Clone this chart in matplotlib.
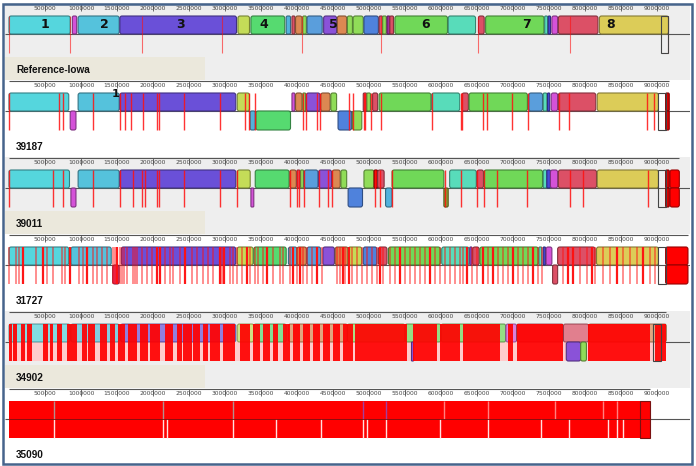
import matplotlib.pyplot as plt
import matplotlib.colors as mcolors
from matplotlib.patches import FancyBboxPatch, Rectangle

# genome names and lengths (Mb)
names = ['Reference-Iowa', '39187', '39011', '31727', '34902', '35090']
lengths = [9.16, 9.17, 9.31, 9.43, 9.13, 8.90]
tick_pos = [0.5 * k for k in range(1, 19)]

pal = {'cy': '#55d6dd', 'cb': '#55c2dc', 'pu': '#6a50d8', 'yg': '#c4dc58',
       'gr': '#56da70', 'tb': '#52b2dc', 'rd': '#dc5066', 'or': '#dc8852',
       'lg': '#90dc58', 'bl': '#5a9edc', 'vi': '#8a52d8', 'db': '#4f82dc',
       'mg': '#d452d8', 'g6': '#70d858', 'te': '#58dcba', 'ye': '#dccc58',
       'dp': '#a02ca0', 'br': '#ff0000', 'ol': '#8a9a30', 'pk': '#e0306a',
       'nb': '#4848d8', 'dr': '#e00000'}

# ---- Reference-Iowa
ref_up = [(0.00, 0.85, 'cy'), (0.88, 0.94, 'mg'), (0.96, 1.53, 'cb'), (1.54, 3.16, 'pu'),
          (3.18, 3.34, 'yg'), (3.36, 3.83, 'gr'), (3.85, 3.91, 'tb'), (3.93, 3.97, 'rd'),
          (3.98, 4.07, 'or'), (4.08, 4.13, 'lg'), (4.14, 4.35, 'bl'), (4.37, 4.55, 'vi'),
          (4.56, 4.69, 'or'), (4.70, 4.77, 'lg'), (4.78, 4.92, 'lg'), (4.93, 5.13, 'db'),
          (5.14, 5.19, 'rd'), (5.19, 5.24, 'lg'), (5.25, 5.29, 'dp'), (5.29, 5.34, 'rd'),
          (5.36, 6.09, 'g6'), (6.10, 6.48, 'te'), (6.52, 6.60, 'rd'), (6.62, 7.43, 'g6'),
          (7.44, 7.48, 'te'), (7.49, 7.52, 'nb'), (7.54, 7.62, 'mg'), (7.63, 8.18, 'rd'),
          (8.20, 9.16, 'ye')]
ref_red = [0.0, 0.85, 1.85, 2.96, 4.07, 5.17, 6.51, 7.79, 9.15]
ref_box = (9.05, 9.15)
block_nums = ['1', '2', '3', '4', '5', '6', '7', '8']
block_num_pos = [0.50, 1.33, 2.38, 3.54, 4.50, 5.78, 7.19, 8.36]

# ---- 39187
g2_up = [(0.00, 0.83, 'cy'), (0.96, 1.53, 'cb'), (1.54, 3.15, 'pu'), (3.17, 3.34, 'yg'),
         (3.93, 3.97, 'mg'), (3.98, 4.07, 'or'), (4.08, 4.12, 'lg'), (4.13, 4.32, 'vi'),
         (4.33, 4.46, 'or'), (4.47, 4.55, 'lg'), (4.92, 4.97, 'rd'), (4.97, 5.02, 'lg'),
         (5.05, 5.12, 'rd'), (5.14, 5.86, 'g6'), (5.87, 6.26, 'te'), (6.29, 6.38, 'rd'),
         (6.39, 7.20, 'g6'), (7.22, 7.41, 'bl'), (7.42, 7.47, 'te'), (7.48, 7.51, 'nb'),
         (7.53, 7.62, 'mg'), (7.63, 8.15, 'rd'), (8.17, 9.02, 'ye'), (9.12, 9.17, 'dr')]
g2_low = [(0.85, 0.93, 'mg'), (3.35, 3.42, 'tb'), (3.43, 3.91, 'gr'), (4.57, 4.76, 'db'),
          (4.77, 4.90, 'lg'), (9.12, 9.17, 'dr')]
g2_red = [0.0, 0.69, 0.75, 1.17, 1.54, 1.61, 1.69, 1.86, 2.06, 2.08, 2.43, 2.93, 3.28,
          3.33, 3.42, 4.08, 4.13, 4.28, 4.32, 4.72, 4.78, 4.93, 4.95, 5.03, 5.17, 5.88,
          6.28, 6.29, 6.58, 6.64, 6.99, 7.21, 7.64, 7.78, 8.86, 8.96]
g2_box = (9.02, 9.12)

# ---- 39011
g3_up = [(0.00, 0.84, 'cy'), (0.96, 1.53, 'cb'), (1.54, 3.15, 'pu'), (3.17, 3.35, 'yg'),
         (3.42, 3.89, 'gr'), (3.90, 3.99, 'or'), (4.00, 4.04, 'rd'), (4.05, 4.09, 'lg'),
         (4.10, 4.29, 'bl'), (4.30, 4.48, 'vi'), (4.49, 4.60, 'or'), (4.61, 4.69, 'lg'),
         (4.93, 5.07, 'lg'), (5.07, 5.12, 'dr'), (5.12, 5.21, 'rd'), (5.32, 6.04, 'g6'),
         (6.12, 6.49, 'te'), (6.50, 6.59, 'rd'), (6.60, 7.41, 'g6'), (7.42, 7.47, 'te'),
         (7.47, 7.52, 'nb'), (7.52, 7.62, 'mg'), (7.63, 8.16, 'rd'), (8.17, 9.02, 'ye'),
         (9.12, 9.17, 'dr'), (9.18, 9.31, 'br')]
g3_low = [(0.86, 0.93, 'mg'), (3.36, 3.40, 'mg'), (4.71, 4.91, 'db'), (5.23, 5.32, 'tb'),
          (6.04, 6.10, 'ol'), (9.12, 9.17, 'dr'), (9.18, 9.31, 'br')]
g3_red = [0.0, 0.61, 0.75, 1.17, 1.54, 1.72, 1.85, 1.89, 2.06, 2.08, 2.43, 2.93, 3.17,
          3.90, 4.00, 4.03, 4.10, 4.31, 4.43, 4.49, 5.08, 5.15, 5.32, 6.06, 6.28, 6.50,
          6.60, 6.78, 7.19, 7.79, 7.97, 8.88]
g3_box = (9.02, 9.12)

# ---- 31727
g4_up = [(0.00, 0.83, 'cy'), (0.86, 1.42, 'cb'), (1.56, 3.15, 'pu'), (3.17, 3.39, 'yg'),
         (3.40, 3.85, 'gr'), (3.88, 4.00, 'tb'), (4.00, 4.13, 'or'), (4.14, 4.33, 'bl'),
         (4.36, 4.52, 'vi'), (4.53, 4.71, 'or'), (4.71, 4.90, 'yg'), (4.92, 5.11, 'db'),
         (5.13, 5.25, 'rd'), (5.27, 5.99, 'g6'), (6.01, 6.39, 'te'), (6.40, 6.43, 'vi'),
         (6.44, 6.53, 'rd'), (6.54, 7.35, 'g6'), (7.36, 7.40, 'te'), (7.42, 7.45, 'nb'),
         (7.46, 7.54, 'mg'), (7.62, 8.14, 'rd'), (8.16, 9.02, 'ye'), (9.12, 9.43, 'br')]
g4_low = [(1.44, 1.53, 'pk'), (7.55, 7.62, 'rd'), (9.12, 9.43, 'br')]
g4_red = [0.0, 0.10, 0.14, 0.19, 0.375, 0.47, 0.53, 0.61, 0.74, 0.78, 0.85, 0.97, 1.03,
          1.08, 1.17, 1.22, 1.29, 1.36, 1.44, 1.47, 1.50, 1.54, 1.57, 1.60, 1.64, 1.72,
          1.75, 1.78, 1.85, 1.92, 1.99, 2.06, 2.10, 2.17, 2.24, 2.28, 2.38, 2.44, 2.54,
          2.61, 2.69, 2.76, 2.83, 2.93, 2.96, 2.99, 3.07, 3.11, 3.17, 3.24, 3.31, 3.35,
          3.42, 3.46, 3.53, 3.58, 3.67, 3.76, 3.81, 3.90, 3.94, 4.00, 4.04, 4.08, 4.14,
          4.21, 4.28, 4.35, 4.56, 4.60, 4.64, 4.67, 4.72, 4.76, 4.83, 4.90, 4.97, 5.04,
          5.11, 5.15, 5.19, 5.29, 5.36, 5.43, 5.50, 5.57, 5.64, 5.71, 5.78, 5.85, 5.92,
          5.99, 6.06, 6.13, 6.19, 6.26, 6.31, 6.36, 6.43, 6.50, 6.58, 6.65, 6.72, 6.79,
          6.86, 6.93, 7.00, 7.07, 7.14, 7.21, 7.28, 7.35, 7.40, 7.69, 7.76, 7.83, 7.93,
          8.03, 8.10, 8.14, 8.25, 8.35, 8.44, 8.53, 8.63, 8.72, 8.81, 8.90, 8.97]
g4_strong = [0.19, 0.47, 0.85, 1.08, 1.50, 2.06, 2.10, 2.44, 2.93, 2.99, 3.31, 3.58,
             3.94, 4.04, 4.28, 4.64, 4.72, 5.15, 5.43, 5.85, 6.36, 6.58, 6.72, 7.00,
             7.28, 7.76, 7.83, 8.10, 8.44, 8.81]
g4_box = (9.02, 9.12)

# ---- 34902
g5_up = [(0.00, 0.85, 'cy'), (0.86, 1.53, 'cb'), (1.55, 3.15, 'pu'), (3.17, 3.40, 'yg'),
         (3.40, 3.85, 'gr'), (3.88, 4.70, 'or'), (4.70, 5.50, 'lg'), (5.50, 6.00, 'g6'),
         (6.00, 6.90, 'g6'), (6.90, 7.05, 'mg'), (7.05, 7.70, 'rd'), (7.70, 8.05, 'rd'),
         (8.05, 9.13, 'or')]
g5_low = [(5.59, 5.62, 'vi'), (7.74, 7.94, 'vi'), (7.94, 8.02, 'lg')]
g5_red = [(0.00, 0.04), (0.06, 0.11), (0.17, 0.22), (0.25, 0.32), (0.47, 0.54),
          (0.57, 0.61), (0.67, 0.74), (0.80, 0.94), (1.01, 1.08), (1.10, 1.19),
          (1.26, 1.36), (1.40, 1.47), (1.51, 1.61), (1.65, 1.78), (1.82, 1.93),
          (1.96, 2.10), (2.17, 2.28), (2.33, 2.40), (2.42, 2.54), (2.56, 2.65),
          (2.69, 2.76), (2.79, 2.93), (2.97, 3.14), (3.21, 3.35), (3.39, 3.49),
          (3.53, 3.63), (3.67, 3.74), (3.81, 3.90), (3.94, 4.04), (4.08, 4.18),
          (4.22, 4.32), (4.36, 4.46), (4.50, 4.60), (4.64, 4.78), (4.81, 5.53),
          (5.61, 5.94), (5.99, 6.26), (6.31, 6.82), (6.93, 7.00), (7.06, 7.69),
          (8.04, 8.90), (8.97, 9.13)]
g5_box = (8.94, 9.05)

# ---- 35090
g6_red = [(0.00, 8.90)]
g6_up_lines = [(0.63, 'grey'), (2.14, 'grey'), (3.11, 'grey'), (4.92, 'purple'),
               (5.23, 'purple'), (6.04, 'pink'), (6.65, 'pink'), (7.58, 'pink'),
               (8.25, 'pink'), (8.44, 'pink')]
g6_low_gaps = [0.63, 2.14, 2.19, 3.11, 3.71, 4.33, 4.92, 4.97, 5.23, 5.99, 6.65, 7.39,
               7.78, 8.32, 8.44, 8.53]

W, H = 696, 466
fig = plt.figure(figsize=(W / 100, H / 100), dpi=100)
fig.patch.set_facecolor('white')


def darker(c, f=0.6):
    r, g, b = mcolors.to_rgb(c)
    return (r * f, g * f, b * f)


def block(ax, s, e, row, key, alpha=1.0):
    y0, h = (13, 18) if row == 'u' else (31, 19)
    col = pal[key]
    rs = min(0.03, (e - s) / 3)
    p = FancyBboxPatch((s, y0), e - s, h,
                       boxstyle='round,pad=0,rounding_size=%f' % rs,
                       mutation_aspect=72, fc=col, ec=darker(col), lw=0.8,
                       alpha=alpha, zorder=2)
    ax.add_patch(p)


def ruler(ax, L):
    ax.hlines(1, 0, L, color='#555555', lw=0.8, zorder=3)
    clip = Rectangle((0, 0), L, 12, transform=ax.transData)
    for t in tick_pos:
        if t - 0.2 > L:
            continue
        ax.vlines(t, 1, 8, color='#555555', lw=0.6, zorder=3)
        txt = ax.text(t, 5.5, '%d' % round(t * 1e6), ha='center', va='center',
                      fontsize=4.3, color='#444444', zorder=3)
        txt.set_clip_path(clip)


def track(i, grey):
    top = 3 + 77 * i
    ax = fig.add_axes([5 / W, 1 - (top + 77) / H, 685 / W, 77 / H])
    ax.set_xlim(-4 / 72, 681 / 72)
    ax.set_ylim(77, 0)
    ax.axis('off')
    ax.add_patch(Rectangle((-4 / 72, 0), 685 / 72, 77,
                           fc='#eeeeee' if grey else 'white', ec='none', zorder=0))
    if grey:
        ax.add_patch(Rectangle((-4 / 72, 54), 200 / 72, 24, fc='#ebe8dc',
                               ec='none', zorder=0.5))
    ax.hlines(31, -4 / 72, 681 / 72, color='#555555', lw=0.8, zorder=1)
    ruler(ax, lengths[i])
    ax.text(7 / 72, 67, names[i], fontsize=7.2, fontweight='bold',
            family='Liberation Sans', va='center', ha='left', color='#111111')
    return ax


def red_lines(ax, xs, lw=1.0, alpha=0.85):
    ax.vlines(xs, 13, 50, color='#ff1010', lw=lw, alpha=alpha, zorder=4)


def outline(ax, span):
    ax.add_patch(Rectangle((span[0], 13), span[1] - span[0], 37, fill=False,
                           ec='#444444', lw=0.8, zorder=5))


# track 1
ax = track(0, True)
for s, e, k in ref_up:
    block(ax, s, e, 'u', k)
red_lines(ax, ref_red, lw=0.8, alpha=0.6)
outline(ax, ref_box)
for n, x in zip(block_nums, block_num_pos):
    ax.text(x, 22, n, ha='center', va='center', fontsize=9, fontweight='bold',
            color='#111111', zorder=6)

# track 2
ax = track(1, False)
for s, e, k in g2_up:
    block(ax, s, e, 'u', k)
for s, e, k in g2_low:
    block(ax, s, e, 'l', k)
red_lines(ax, g2_red)
outline(ax, g2_box)
ax.text(1.48, 14, '1', ha='center', va='center', fontsize=8, fontweight='bold',
        color='#111111', zorder=6)

# track 3
ax = track(2, True)
for s, e, k in g3_up:
    block(ax, s, e, 'u', k)
for s, e, k in g3_low:
    block(ax, s, e, 'l', k)
red_lines(ax, g3_red)
outline(ax, g3_box)

# track 4
ax = track(3, False)
for s, e, k in g4_up:
    block(ax, s, e, 'u', k)
for s, e, k in g4_low:
    block(ax, s, e, 'l', k)
red_lines(ax, g4_red, lw=1.2, alpha=0.55)
red_lines(ax, g4_strong, lw=1.6, alpha=0.95)
outline(ax, g4_box)

# track 5
ax = track(4, True)
for s, e, k in g5_up:
    block(ax, s, e, 'u', k, alpha=0.7)
ax.add_patch(Rectangle((0, 31), lengths[4], 19, fc='#ffcccc', ec='none', zorder=1.5))
for s, e, k in g5_low:
    block(ax, s, e, 'l', k)
for s, e in g5_red:
    ax.add_patch(Rectangle((s, 13), e - s, 37, fc='#ff0000', ec='none', alpha=0.92,
                           zorder=3))
outline(ax, g5_box)

# track 6
ax = track(5, False)
for s, e in g6_red:
    ax.add_patch(Rectangle((s, 13), e - s, 37, fc='#ff0000', ec='none', zorder=2))
line_cols = {'grey': '#b09090', 'purple': '#a040a0', 'pink': '#ff8080'}
for x, c in g6_up_lines:
    ax.vlines(x, 13, 31, color=line_cols[c], lw=1.0, zorder=3)
ax.vlines(g6_low_gaps, 31, 50, color='#ffe0e0', lw=1.0, zorder=3)
ax.add_patch(Rectangle((8.76, 13), 0.14, 37, fill=False, ec='#7a1010', lw=0.8, zorder=5))
ax.hlines(31, 0, lengths[5], color='#7a1010', lw=0.6, zorder=4)

# outer frame
fig.add_artist(Rectangle((2.5 / W, 2.5 / H), 689 / W, 460 / H, transform=fig.transFigure,
                         fill=False, ec='#46648c', lw=1.8))

fig.savefig('out.png', dpi=100)
